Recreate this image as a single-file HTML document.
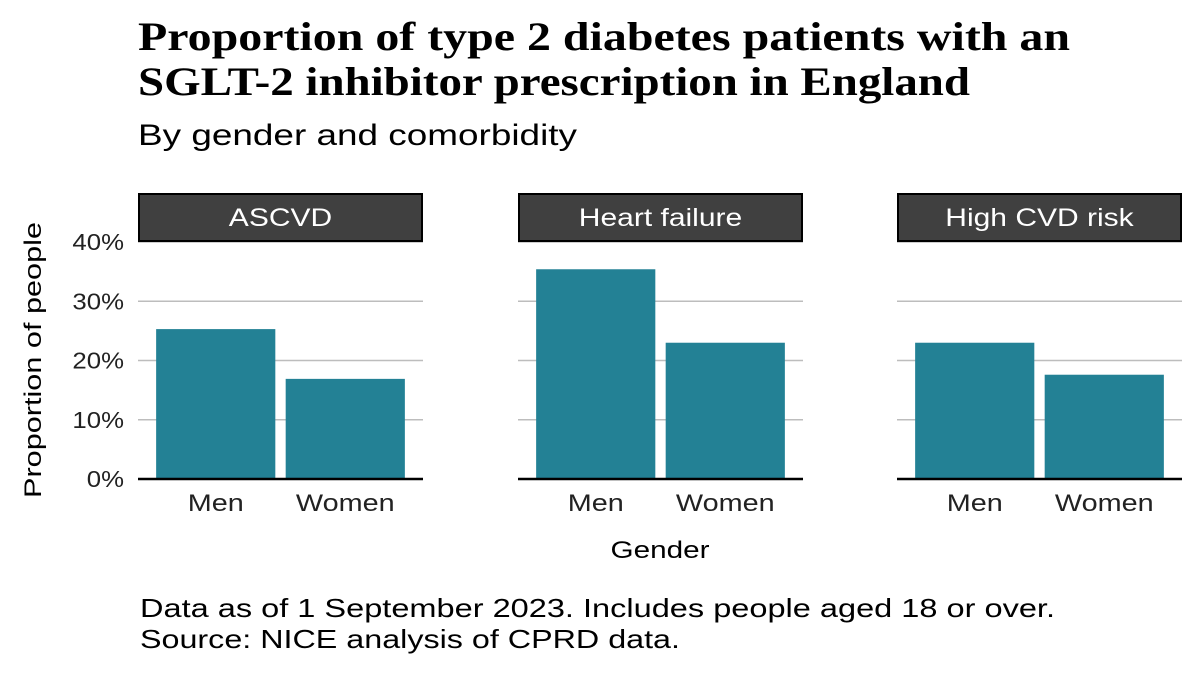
<!DOCTYPE html>
<html><head><meta charset="utf-8"><style>
body{margin:0;background:#fff}
svg text{font-family:"Liberation Sans",sans-serif}
</style></head><body>
<svg id="chart" width="1200" height="675" xmlns="http://www.w3.org/2000/svg">
<rect width="1200" height="675" fill="#fff"/>
<text x="138" y="50" font-weight="bold" font-size="40" fill="#000" textLength="932" lengthAdjust="spacingAndGlyphs" style="font-family:'Liberation Serif',serif">Proportion of type 2 diabetes patients with an</text>
<text x="138" y="95" font-weight="bold" font-size="40" fill="#000" textLength="832" lengthAdjust="spacingAndGlyphs" style="font-family:'Liberation Serif',serif">SGLT-2 inhibitor prescription in England</text>
<text x="138" y="145" font-size="30" fill="#000" textLength="439" lengthAdjust="spacingAndGlyphs">By gender and comorbidity</text>
<text transform="translate(41,360) rotate(-90)" text-anchor="middle" font-size="24" fill="#000" textLength="276" lengthAdjust="spacingAndGlyphs">Proportion of people</text>
<text x="660" y="558" text-anchor="middle" font-size="24" fill="#000" textLength="99" lengthAdjust="spacingAndGlyphs">Gender</text>
<text x="140" y="617" font-size="26" fill="#000" textLength="915" lengthAdjust="spacingAndGlyphs">Data as of 1 September 2023. Includes people aged 18 or over.</text>
<text x="140" y="648" font-size="26" fill="#000" textLength="540" lengthAdjust="spacingAndGlyphs">Source: NICE analysis of CPRD data.</text>
<g id="plots"></g>
</svg>
<script>
const panels = ["ASCVD", "Heart failure", "High CVD risk"];
const categories = ["Men", "Women"];
const valuesMen = [25.3, 35.4, 23.0];
const valuesWomen = [16.9, 23.0, 17.6];
const yTicks = [0, 10, 20, 30, 40];
const yTickLabels = ["0%", "10%", "20%", "30%", "40%"];

const NS = "http://www.w3.org/2000/svg";
const g = document.getElementById("plots");
const panelX = [138, 518, 897], panelW = 285;
const y0 = 479, yPerUnit = 237 / 40;
const y = v => y0 - v * yPerUnit;
function mk(tag, attrs, parent) {
  const e = document.createElementNS(NS, tag);
  for (const k in attrs) e.setAttribute(k, attrs[k]);
  (parent || g).appendChild(e);
  return e;
}
function widen(tx, factor) {
  const w = tx.getComputedTextLength();
  tx.setAttribute("textLength", w * factor);
  tx.setAttribute("lengthAdjust", "spacingAndGlyphs");
}
yTicks.forEach((t, i) => {
  const tx = mk("text", {x: 124, y: y(t) + 8, "text-anchor": "end", "font-size": 23, fill: "#222"});
  tx.textContent = yTickLabels[i];
  
  
  widen(tx, 1.12);
});
panels.forEach((p, pi) => {
  const px = panelX[pi];
  const unit = panelW / (categories.length + 0.2);
  const xc = ci => px + (0.6 + ci) * unit;
  yTicks.forEach(t => {
    if (t === 0) return;
    const l = mk("line", {x1: px, x2: px + panelW, y1: y(t), y2: y(t), stroke: "#bdbdbd", "stroke-width": 1.5});
    
    
  });
  const vals = [valuesMen[pi], valuesWomen[pi]];
  categories.forEach((c, ci) => {
    const bw = unit * 0.92;
    const r = mk("rect", {x: xc(ci) - bw / 2, y: y(vals[ci]), width: bw, height: y0 - y(vals[ci]), fill: "#238195"});
    
    
    const tx = mk("text", {x: xc(ci), y: 511, "text-anchor": "middle", "font-size": 24, fill: "#222"});
    tx.textContent = c;
    
    
    widen(tx, 1.2);
  });
  const ax = mk("line", {x1: px, x2: px + panelW, y1: y0, y2: y0, stroke: "#000", "stroke-width": 2.5});
  
  
  const s = mk("rect", {x: px + 1, y: 194, width: panelW - 2, height: 47, fill: "#404040", stroke: "#000", "stroke-width": 2});
  
  
  const st = mk("text", {x: px + panelW / 2, y: 226, "text-anchor": "middle", "font-size": 25, fill: "#fff"});
  st.textContent = p;
  
  
  widen(st, 1.2);
});
</script>
</body></html>
